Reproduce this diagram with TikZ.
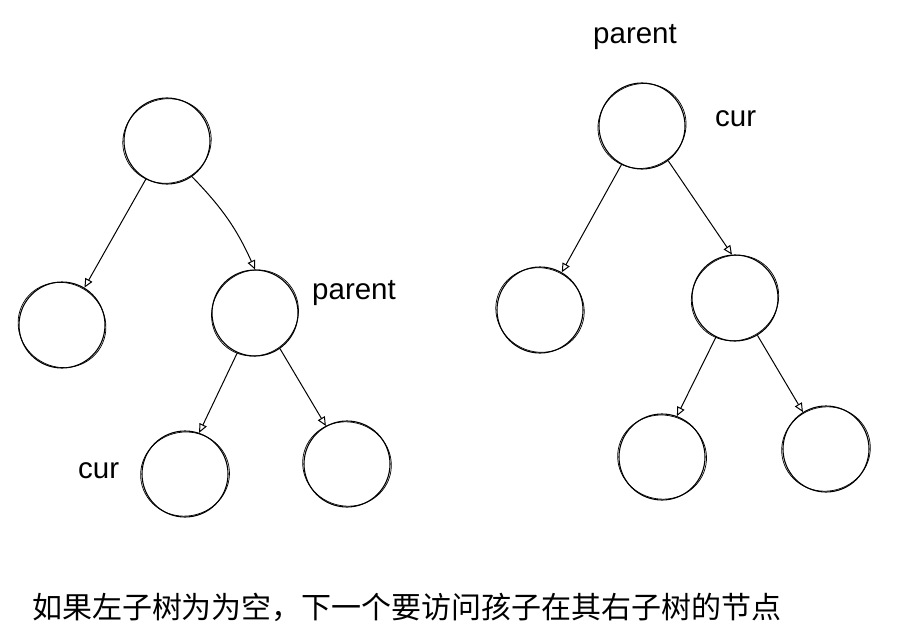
\documentclass[tikz,border=0pt]{standalone}
\usepackage{fontspec}
\setmainfont{Liberation Sans}
\newfontfamily\cjk{Noto Sans CJK SC}
\usetikzlibrary{arrows.meta}
\begin{document}
\begin{tikzpicture}[x=1pt,y=-1pt,
  nd/.style={circle, draw, line width=1.1pt, minimum size=86pt, inner sep=0pt},
  edge/.style={-{Triangle[open,length=9pt,width=8pt]}, line width=1pt},
  lbl/.style={font=\fontsize{29.5}{32}\selectfont, inner sep=0pt, anchor=base west},
  sk/.style={line width=0.7pt}]
\useasboundingbox (0,0) rectangle (900,634);
% left tree
\node[nd] (a) at (167,141) {};
\node[nd] (b) at (62,325) {};
\node[nd] (c) at (255,313) {};
\node[nd] (d) at (185,474) {};
\node[nd] (e) at (347,464) {};
% right tree
\node[nd] (f) at (642,126) {};
\node[nd] (g) at (540,310) {};
\node[nd] (h) at (735,298) {};
\node[nd] (i) at (662,457) {};
\node[nd] (j) at (826,449) {};
% sketchy second strokes
\foreach \n/\r in {a/20,b/-30,c/40,d/10,e/-15,f/25,g/-20,h/35,i/-10,j/15}{
  \draw[sk, rotate around={\r:(\n)}] (\n) ellipse [x radius=44.5pt, y radius=42pt];
}
% edges
\draw[edge] (a.-119) -- (b.59);
\draw[edge] (a.-55) to[bend left=10] (c.90);
\draw[edge] (c.-114) -- (d.71);
\draw[edge] (c.-55) -- (e.119);
\draw[edge] (f.-118) -- (g.60);
\draw[edge] (f.-53) -- (h.94);
\draw[edge] (h.-116) -- (i.70);
\draw[edge] (h.-59) -- (j.122);
% labels
\node[lbl] (lp1) at (312,299) {parent};
\node[lbl] (lc1) at (78,478) {cur};
\node[lbl] (lp2) at (593,44) {parent};
\node[lbl] (lc2) at (715,126) {cur};
\node[font=\cjk\fontsize{30}{34}\selectfont, inner sep=0pt] (cap) at (407,607) {如果左子树为为空，下一个要访问孩子在其右子树的节点};
\end{tikzpicture}
\end{document}
